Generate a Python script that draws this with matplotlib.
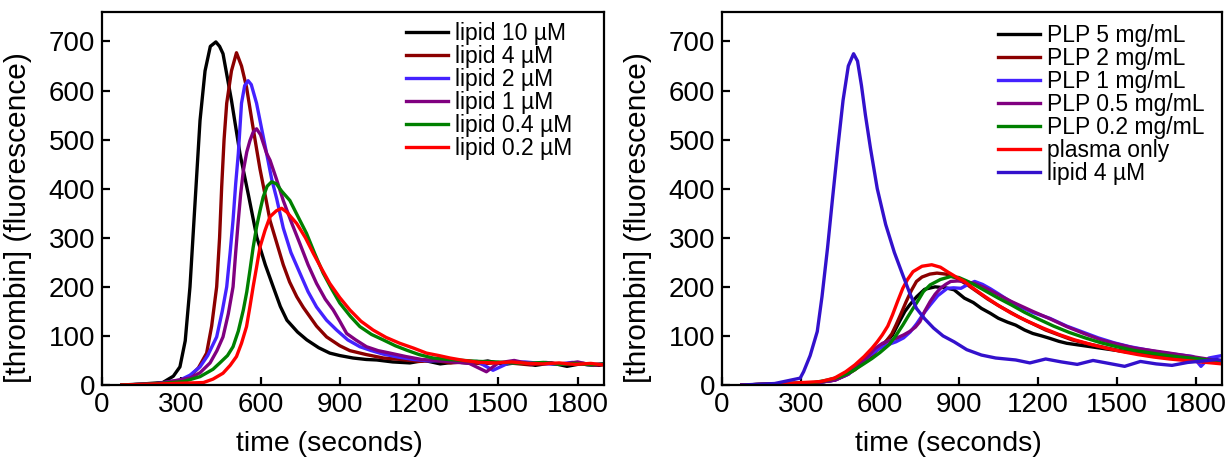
import matplotlib
matplotlib.use("Agg")
import matplotlib.pyplot as plt

plt.rcParams['font.family'] = ['Liberation Sans', 'DejaVu Sans']

# ---- left panel: lipid titration ----
t_l10 = [75, 150, 230, 270, 295, 315, 333, 352, 371, 390, 410, 431, 445, 458, 490, 522, 555, 586, 618, 648,
         675, 700, 740, 775, 820, 862, 900, 950, 1000, 1040, 1100, 1165, 1220, 1280, 1340, 1400, 1460, 1520,
         1580, 1640, 1700, 1760, 1820, 1880, 1900]
v_l10 = [0, 2, 5, 18, 37, 90, 200, 370, 539, 640, 690, 699, 690, 675, 580, 472, 385, 301, 245, 200,
         160, 132, 108, 92, 76, 65, 60, 55, 52, 51, 47, 45, 50, 43, 47, 44, 49, 42,
         46, 40, 45, 38, 44, 40, 42]

t_l4 = [75, 200, 270, 310, 333, 365, 396, 415, 434, 445, 453, 462, 472, 490, 509, 528, 547, 570, 586, 598,
        620, 636, 661, 686, 710, 737, 762, 812, 850, 900, 938, 1000, 1065, 1130, 1200, 1260, 1320, 1380,
        1440, 1500, 1560, 1620, 1680, 1740, 1800, 1860, 1900]
v_l4 = [0, 2, 5, 10, 17, 35, 65, 120, 200, 300, 404, 500, 574, 640, 677, 650, 607, 530, 478, 440,
        380, 335, 290, 245, 210, 180, 158, 120, 98, 80, 70, 62, 55, 52, 48, 50, 45, 47,
        43, 46, 44, 41, 45, 42, 44, 40, 42]

t_l2 = [75, 200, 295, 333, 371, 400, 434, 455, 472, 485, 496, 506, 516, 528, 540, 553, 565, 585, 605, 623,
        642, 661, 686, 715, 749, 780, 812, 850, 888, 930, 976, 1020, 1064, 1120, 1180, 1240, 1300, 1360,
        1420, 1480, 1540, 1600, 1660, 1720, 1780, 1840, 1900]
v_l2 = [0, 2, 10, 20, 37, 60, 98, 150, 200, 270, 336, 410, 472, 574, 610, 620, 612, 574, 520, 472,
        420, 380, 320, 270, 228, 190, 159, 132, 112, 92, 78, 70, 63, 57, 52, 49, 50, 46,
        48, 30, 45, 47, 44, 42, 46, 41, 43]

t_l1 = [75, 200, 333, 371, 409, 435, 458, 478, 496, 506, 516, 525, 535, 548, 560, 572, 585, 600, 623, 636,
        660, 686, 718, 749, 780, 812, 845, 875, 900, 926, 960, 1001, 1045, 1090, 1150, 1210, 1270, 1330,
        1390, 1455, 1500, 1560, 1620, 1680, 1740, 1800, 1860, 1900]
v_l1 = [0, 2, 14, 25, 45, 70, 98, 145, 200, 270, 336, 390, 437, 475, 498, 515, 522, 510, 472, 458,
        420, 376, 330, 288, 245, 207, 175, 153, 130, 105, 92, 78, 70, 65, 58, 52, 50, 47,
        44, 27, 45, 50, 43, 46, 42, 47, 40, 43]

t_l04 = [75, 200, 308, 371, 420, 446, 475, 496, 516, 535, 548, 560, 572, 585, 598, 610, 625, 642, 660, 680,
         711, 740, 774, 805, 837, 870, 900, 940, 976, 1020, 1064, 1110, 1153, 1200, 1253, 1310, 1370, 1430,
         1490, 1550, 1610, 1670, 1730, 1790, 1850, 1900]
v_l04 = [0, 2, 7, 17, 32, 45, 60, 78, 110, 153, 190, 234, 280, 322, 355, 383, 405, 414, 410, 395,
         376, 345, 309, 268, 228, 195, 167, 140, 119, 103, 92, 80, 71, 62, 55, 52, 50, 48,
         47, 45, 44, 46, 42, 44, 41, 43]

t_l02 = [75, 200, 384, 420, 458, 485, 509, 528, 547, 560, 572, 585, 598, 617, 636, 660, 680, 700, 737, 770,
         800, 830, 862, 900, 938, 980, 1026, 1075, 1127, 1180, 1228, 1275, 1317, 1370, 1430, 1490, 1550,
         1610, 1670, 1730, 1790, 1850, 1900]
v_l02 = [0, 2, 5, 12, 24, 40, 58, 85, 119, 160, 200, 240, 281, 315, 343, 355, 360, 352, 329, 300,
         268, 238, 207, 178, 153, 130, 112, 97, 85, 75, 65, 60, 55, 50, 46, 45, 47,
         44, 43, 45, 42, 44, 41]

# ---- right panel: PLP titration ----
t_p5 = [75, 200, 350, 427, 470, 505, 530, 557, 585, 609, 630, 648, 674, 695, 713, 740, 770, 810, 850, 882,
        921, 955, 986, 1020, 1050, 1085, 1116, 1150, 1181, 1215, 1246, 1280, 1310, 1375, 1440, 1505, 1570,
        1635, 1700, 1760, 1820, 1880, 1900]
v_p5 = [0, 2, 4, 10, 20, 34, 47, 61, 72, 82, 92, 102, 129, 150, 163, 180, 195, 200, 198, 194,
        177, 168, 156, 146, 136, 128, 122, 112, 105, 100, 95, 89, 85, 80, 75, 70, 65,
        62, 58, 55, 52, 48, 47]

t_p2 = [75, 200, 350, 427, 470, 505, 540, 570, 600, 622, 645, 661, 680, 700, 720, 739, 760, 790, 817, 850,
        890, 930, 970, 1010, 1050, 1090, 1130, 1180, 1230, 1280, 1330, 1390, 1450, 1510, 1570, 1630, 1690,
        1750, 1810, 1870, 1900]
v_p2 = [0, 2, 4, 10, 20, 31, 47, 61, 76, 88, 104, 122, 145, 170, 193, 211, 220, 226, 228, 226,
        218, 205, 190, 175, 162, 150, 138, 125, 112, 102, 92, 84, 77, 70, 65, 61, 58,
        55, 52, 49, 48]

t_p1 = [75, 200, 350, 430, 480, 520, 560, 600, 630, 661, 690, 715, 740, 765, 791, 820, 856, 880, 908, 935,
        960, 990, 1020, 1050, 1090, 1130, 1180, 1245, 1310, 1370, 1430, 1490, 1550, 1610, 1670, 1730, 1790,
        1820, 1850, 1900]
v_p1 = [0, 2, 4, 10, 22, 40, 60, 75, 82, 88, 96, 108, 125, 145, 163, 182, 197, 198, 197, 205,
        211, 205, 196, 186, 172, 160, 148, 136, 120, 108, 96, 86, 78, 72, 66, 62, 58,
        38, 55, 60]

t_p05 = [75, 200, 350, 430, 480, 520, 560, 583, 610, 635, 661, 690, 713, 735, 752, 770, 791, 810, 830, 850,
         869, 895, 921, 960, 1000, 1050, 1100, 1181, 1250, 1310, 1375, 1440, 1505, 1570, 1635, 1700, 1760,
         1820, 1880, 1900]
v_p05 = [0, 2, 4, 10, 22, 40, 62, 75, 85, 90, 95, 102, 109, 118, 129, 150, 170, 185, 197, 205,
         211, 212, 211, 207, 198, 184, 170, 150, 134, 119, 105, 92, 83, 75, 70, 65, 60,
         55, 50, 48]

t_p02 = [75, 200, 350, 401, 450, 492, 530, 570, 600, 635, 660, 687, 705, 726, 745, 765, 791, 830, 869, 900,
         930, 960, 1000, 1050, 1100, 1150, 1200, 1260, 1320, 1380, 1440, 1500, 1560, 1620, 1680, 1740, 1800,
         1860, 1900]
v_p02 = [0, 2, 5, 10, 17, 27, 40, 54, 66, 82, 100, 122, 138, 156, 172, 190, 204, 215, 221, 219,
         212, 204, 192, 177, 163, 148, 135, 120, 107, 96, 86, 78, 71, 66, 61, 57, 54,
         50, 48]

t_plasma = [75, 200, 375, 427, 470, 505, 540, 570, 590, 609, 630, 648, 667, 687, 705, 726, 760, 797, 830, 856,
            890, 921, 960, 1000, 1050, 1100, 1160, 1220, 1280, 1340, 1400, 1460, 1520, 1580, 1640, 1700, 1760,
            1820, 1880, 1900]
v_plasma = [0, 2, 7, 14, 27, 41, 58, 75, 88, 102, 120, 143, 170, 197, 215, 231, 242, 245, 240, 231,
            220, 211, 195, 180, 162, 146, 130, 116, 103, 92, 83, 75, 68, 62, 57, 53, 50,
            47, 44, 43]

t_lip4 = [75, 200, 297, 310, 335, 362, 380, 401, 420, 440, 460, 480, 500, 515, 530, 545, 564, 590, 622, 655,
          687, 715, 739, 770, 804, 840, 882, 930, 986, 1040, 1116, 1170, 1230, 1290, 1350, 1410, 1470, 1530,
          1590, 1650, 1710, 1770, 1830, 1880, 1900]
v_lip4 = [0, 3, 14, 27, 60, 109, 180, 279, 380, 483, 580, 650, 675, 660, 610, 550, 483, 400, 327, 270,
          224, 185, 156, 135, 116, 100, 88, 72, 61, 55, 51, 45, 53, 47, 42, 50, 44, 38,
          48, 43, 40, 46, 49, 52, 50]

left_series = [
    (t_l10, v_l10, 'lipid 10 µM', '#000000'),
    (t_l4, v_l4, 'lipid 4 µM', '#8b0000'),
    (t_l2, v_l2, 'lipid 2 µM', '#4422ff'),
    (t_l1, v_l1, 'lipid 1 µM', '#800080'),
    (t_l04, v_l04, 'lipid 0.4 µM', '#008000'),
    (t_l02, v_l02, 'lipid 0.2 µM', '#ff0000'),
]
right_series = [
    (t_p5, v_p5, 'PLP 5 mg/mL', '#000000'),
    (t_p2, v_p2, 'PLP 2 mg/mL', '#8b0000'),
    (t_p1, v_p1, 'PLP 1 mg/mL', '#4422ff'),
    (t_p05, v_p05, 'PLP 0.5 mg/mL', '#800080'),
    (t_p02, v_p02, 'PLP 0.2 mg/mL', '#008000'),
    (t_plasma, v_plasma, 'plasma only', '#ff0000'),
    (t_lip4, v_lip4, 'lipid 4 µM', '#3311cc'),
]

fig = plt.figure(figsize=(12.28, 4.62), dpi=100)
ax1 = fig.add_axes([102 / 1228, 77 / 462, 502 / 1228, 373 / 462])
ax2 = fig.add_axes([722 / 1228, 77 / 462, 500 / 1228, 373 / 462])

for ax, series, leg_x, leg_y in [(ax1, left_series, 0.6056, 0.973), (ax2, right_series, 0.552, 0.968)]:
    for t, v, lab, col in series:
        ax.plot(t, v, color=col, lw=2.4, label=lab)
    ax.set_xlim(0, 1900)
    ax.set_ylim(0, 760)
    ax.set_xticks(range(0, 1801, 300))
    ax.set_yticks(range(0, 701, 100))
    ax.tick_params(direction='in', length=6, width=1.6, labelsize=20, pad=5)
    for s in ax.spines.values():
        s.set_linewidth(1.6)
    ax.set_xlabel('time (seconds)', fontsize=20.5)
    ax.xaxis.set_label_coords(0.453, -0.123)
    ax.set_ylabel('[thrombin] (fluorescence)', fontsize=21.5)
    ax.yaxis.set_label_coords(-0.14, 0.45)
    ax.legend(loc='upper left', bbox_to_anchor=(leg_x, leg_y), frameon=False, fontsize=16.5,
              handlelength=1.85, handletextpad=0.3, labelspacing=0.0, borderpad=0, borderaxespad=0)

plt.savefig('out.png', dpi=100)
plt.close()
